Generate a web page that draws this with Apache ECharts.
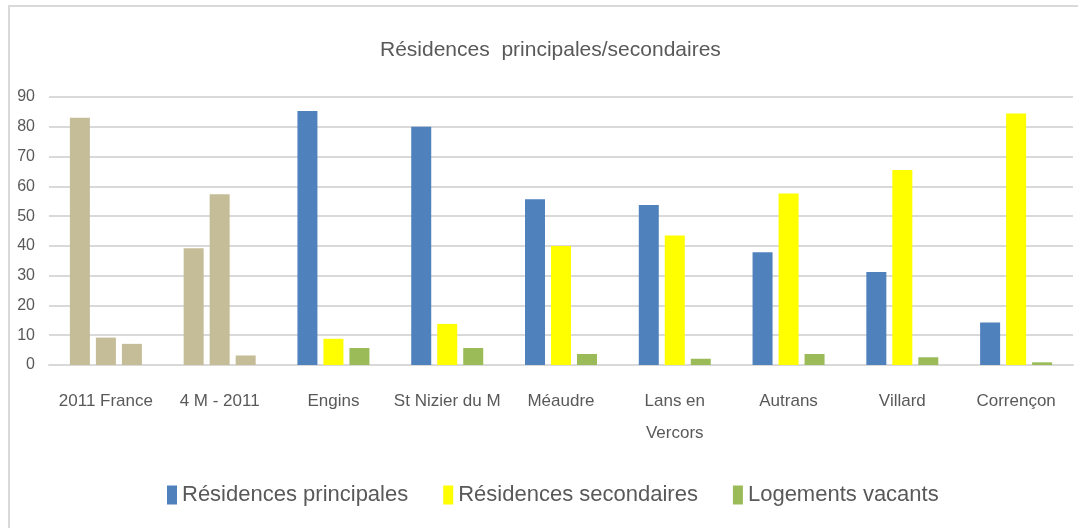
<!DOCTYPE html>
<html>
<head>
<meta charset="utf-8">
<script src="https://cdn.jsdelivr.net/npm/echarts@6/dist/echarts.min.js"></script>
<style>
  html, body { margin: 0; padding: 0; background: #fff; }
  #frame { position: absolute; left: 8px; top: 5px; width: 1100px; height: 600px;
           border-left: 2px solid #d9d9d9; border-top: 2px solid #d9d9d9; }
  #chart { position: absolute; left: 0; top: 0; width: 1078px; height: 528px; }
</style>
</head>
<body>
<div id="frame"></div>
<div id="chart"></div>
<script>
// catégories (communes)
var categories = ['2011 France', '4 M - 2011', 'Engins', 'St Nizier du M', 'Méaudre',
  'Lans en\nVercors', 'Autrans', 'Villard', 'Corrençon'];
var seriesNames = ['Résidences principales', 'Résidences secondaires', 'Logements vacants'];
var principales = [83, 39.2, 85.3, 80, 55.7, 53.7, 37.9, 31.2, 14.3];
var secondaires = [9.2, 57.3, 8.8, 13.8, 40, 43.5, 57.6, 65.5, 84.5];
var vacants = [7.1, 3.2, 5.7, 5.7, 3.7, 2.1, 3.7, 2.6, 0.9];
var yTicks = [0, 10, 20, 30, 40, 50, 60, 70, 80, 90];

var colors = ['#4f81bd', '#ffff00', '#9bbb59'];
var tan = '#c4bd97';
var font = '"Liberation Sans", sans-serif';

// les deux premières catégories sont en beige
function withTan (arr) {
  return arr.map(function (v, i) {
    return i < 2 ? {value: v, itemStyle: {color: tan}} : v;
  });
}

var myChart = echarts.init(document.getElementById('chart'));
var option = {
  animation: false,
  color: colors,
  title: {
    text: 'Résidences  principales/secondaires',
    left: 375,
    top: 35,
    textStyle: {color: '#595959', fontSize: 21, fontWeight: 'normal', fontFamily: font},
  },
  legend: {
    bottom: 17,
    left: 162,
    itemWidth: 10,
    itemHeight: 19,
    itemGap: 35,
    icon: 'rect',
    data: seriesNames,
    textStyle: {color: '#595959', fontSize: 22, fontFamily: font},
  },
  grid: {left: 49, right: 5, top: 97, bottom: 163},
  xAxis: {
    type: 'category',
    data: categories,
    axisTick: {show: false},
    axisLine: {lineStyle: {color: '#d9d9d9', width: 2}},
    axisLabel: {color: '#595959', fontSize: 17, fontFamily: font, margin: 20, lineHeight: 32, interval: 0},
  },
  yAxis: {
    type: 'value',
    min: yTicks[0],
    max: yTicks[yTicks.length - 1],
    interval: 10,
    axisLine: {show: false},
    axisTick: {show: false},
    splitLine: {lineStyle: {color: '#d9d9d9', width: 2}},
    axisLabel: {color: '#595959', fontSize: 16, fontFamily: font, margin: 14},
  },
  series: [
    {name: seriesNames[0], type: 'bar', barWidth: 20, barGap: '30%', data: withTan(principales)},
    {name: seriesNames[1], type: 'bar', barWidth: 20, barGap: '30%', data: withTan(secondaires)},
    {name: seriesNames[2], type: 'bar', barWidth: 20, barGap: '30%', data: withTan(vacants)},
  ],
};
myChart.setOption(option);
</script>
</body>
</html>
